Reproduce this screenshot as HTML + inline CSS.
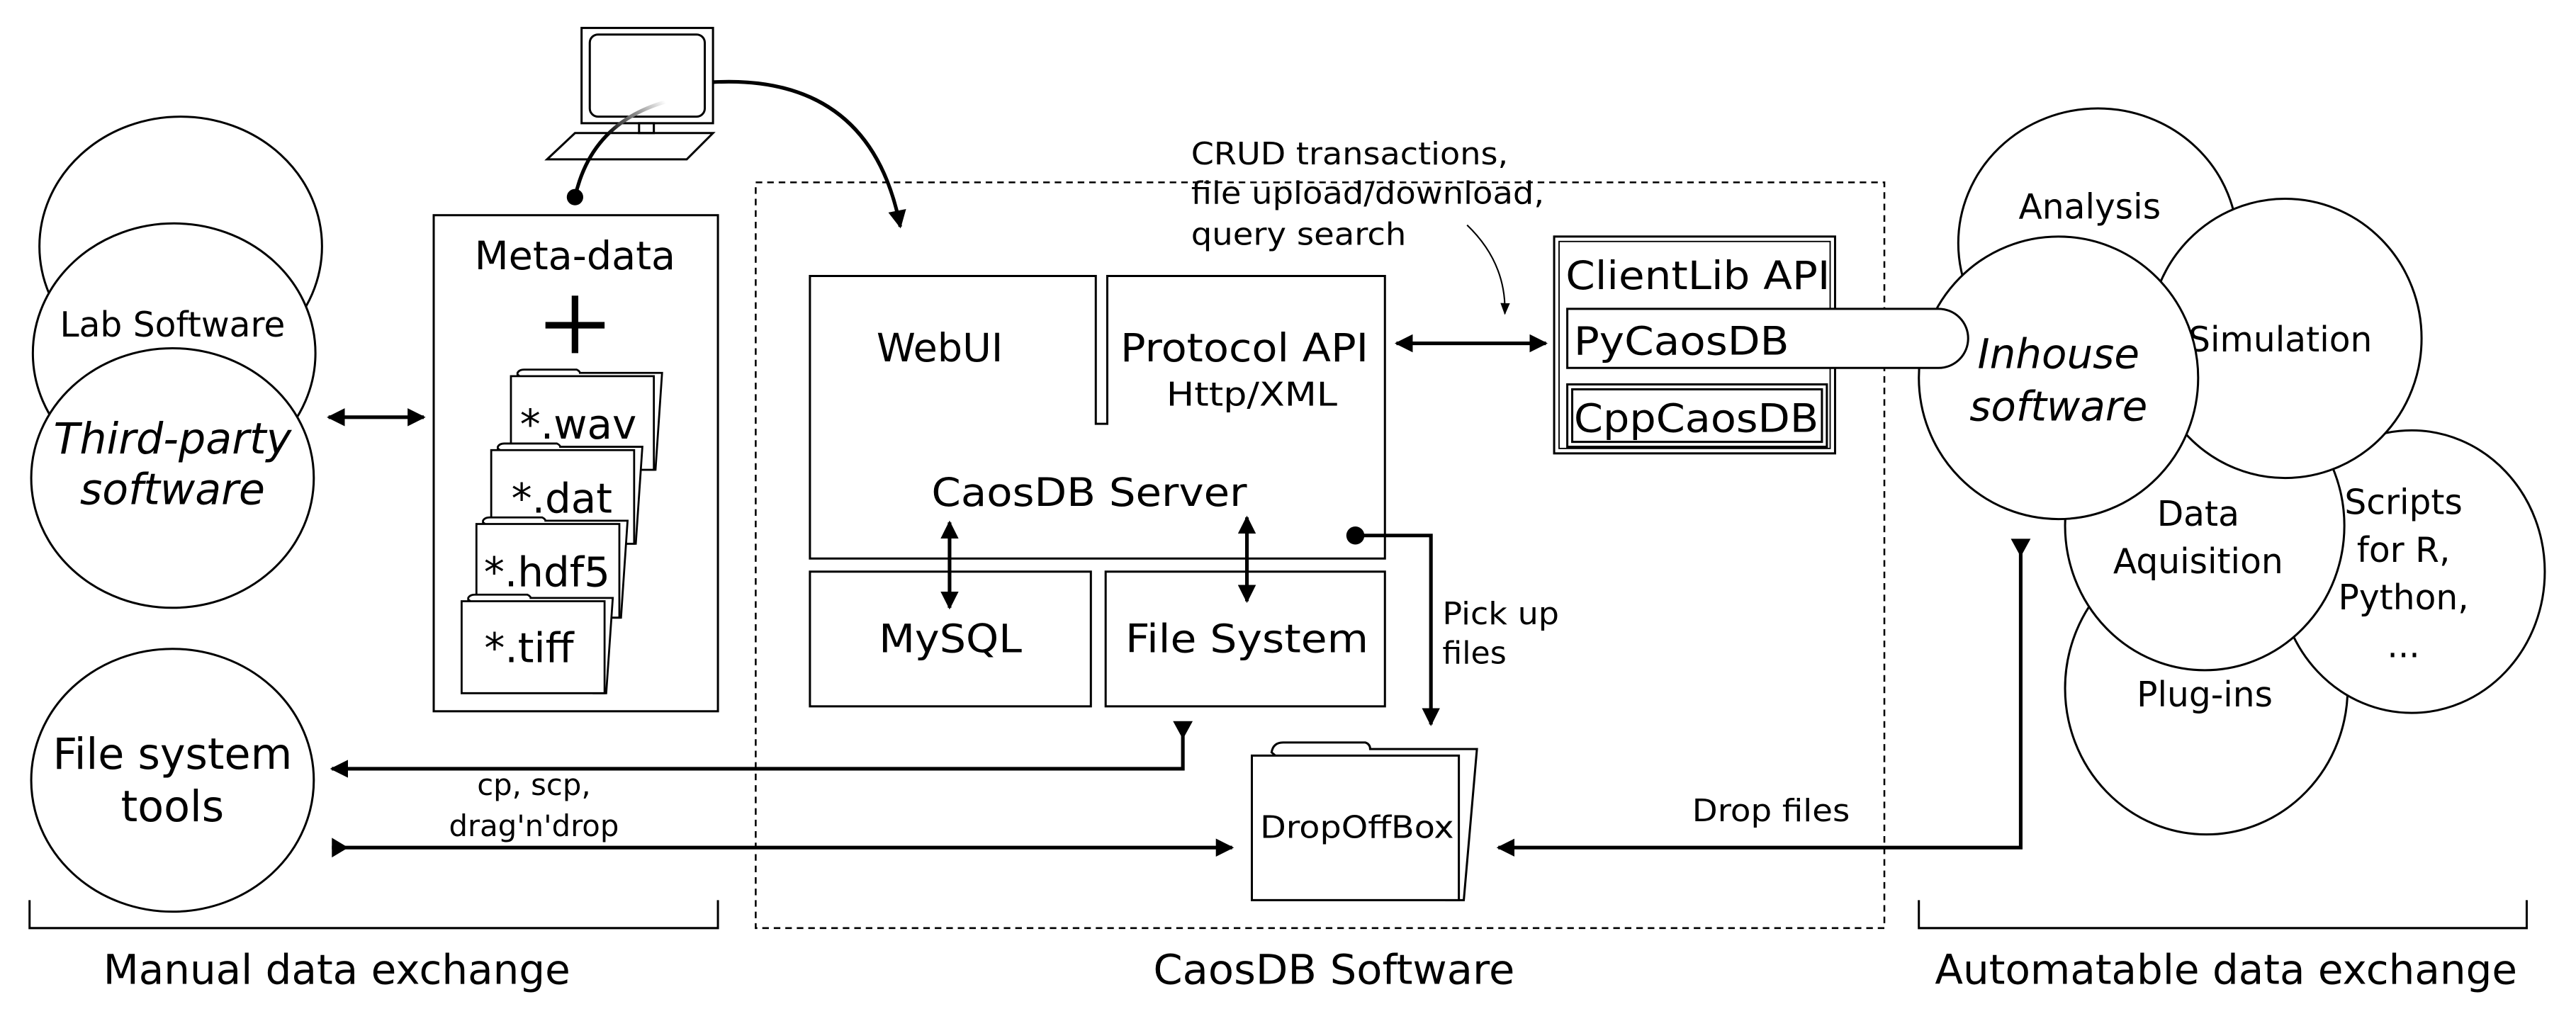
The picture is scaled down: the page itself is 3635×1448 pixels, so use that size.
<!DOCTYPE html>
<html><head><meta charset="utf-8"><style>
html,body{margin:0;padding:0;background:#fff;}
svg{display:block;}
text{font-family:"DejaVu Sans","Liberation Sans",sans-serif;fill:#000;}
</style></head><body>
<svg width="3635" height="1448" viewBox="0 0 1568 624.6" xmlns="http://www.w3.org/2000/svg">
<defs>
<marker id="ah" viewBox="0 0 10 10" refX="9" refY="5" markerWidth="5" markerHeight="5" orient="auto-start-reverse" markerUnits="strokeWidth"><path d="M0,0 L10,5 L0,10 z" fill="#000"/></marker>
<marker id="ahs" viewBox="0 0 10 10" refX="9" refY="5" markerWidth="8" markerHeight="8" orient="auto-start-reverse" markerUnits="strokeWidth"><path d="M0,1 L10,5 L0,9 z" fill="#000"/></marker>
<linearGradient id="g" x1="0" y1="1" x2="1" y2="0"><stop offset="0.5" stop-color="#000"/><stop offset="1" stop-color="#fff"/></linearGradient>
</defs>
<g fill="#fff" stroke="#000" stroke-width="1.3">
<ellipse cx="110" cy="150" rx="86" ry="79"/>
<ellipse cx="106" cy="215" rx="86" ry="79"/>
</g>
<text x="105" y="205" font-size="21" text-anchor="middle">Lab Software</text>
<g fill="#fff" stroke="#000" stroke-width="1.3">
<ellipse cx="105" cy="291" rx="86" ry="79"/>
<ellipse cx="105" cy="475" rx="86" ry="80"/>
</g>
<text x="105" y="276" font-size="26" font-style="italic" text-anchor="middle">Third-party</text>
<text x="105" y="307" font-size="26" font-style="italic" text-anchor="middle">software</text>
<text x="105" y="468" font-size="26" text-anchor="middle">File system</text>
<text x="105" y="500" font-size="26" text-anchor="middle">tools</text>

<g fill="none" stroke="#000" stroke-width="1.3">
<rect x="354" y="17" width="80" height="58"/>
<rect x="359" y="21" width="70" height="50" rx="5"/>
<rect x="389" y="75" width="9" height="6"/>
<path d="M333,97 L350,81 L434,81 L418,97 Z"/>
</g>
<path d="M350,120 Q360,75 405,62" fill="none" stroke="url(#g)" stroke-width="2.2"/>
<circle cx="350" cy="120" r="5" fill="#000"/>
<path d="M434,50 Q530,45 548,138" fill="none" stroke="#000" stroke-width="2.2" marker-end="url(#ah)"/>

<rect x="264" y="131" width="173" height="302" fill="none" stroke="#000" stroke-width="1.3"/>
<text x="350" y="164" font-size="24" text-anchor="middle">Meta-data</text>
<path d="M350,180 V215 M332,198 H368" stroke="#000" stroke-width="4"/>
<g stroke="#000" stroke-width="1.2" fill="#fff">
<g transform="translate(311,229)"><path d="M4,-1 L4,-2 Q5,-4 8,-4 L40,-4 Q42,-3 42,-2 L92,-2 L88,57 L80,57 Z"/><path d="M0,0 L87,0 L87,57 L0,57 Z"/></g>
<text x="352" y="267" font-size="25" text-anchor="middle" stroke="none" fill="#000">*.wav</text>
<g transform="translate(299,274)"><path d="M4,-1 L4,-2 Q5,-4 8,-4 L40,-4 Q42,-3 42,-2 L92,-2 L88,57 L80,57 Z"/><path d="M0,0 L87,0 L87,57 L0,57 Z"/></g>
<text x="342" y="312" font-size="25" text-anchor="middle" stroke="none" fill="#000">*.dat</text>
<g transform="translate(290,319)"><path d="M4,-1 L4,-2 Q5,-4 8,-4 L40,-4 Q42,-3 42,-2 L92,-2 L88,57 L80,57 Z"/><path d="M0,0 L87,0 L87,57 L0,57 Z"/></g>
<text x="333" y="357" font-size="25" text-anchor="middle" stroke="none" fill="#000">*.hdf5</text>
<g transform="translate(281,366)"><path d="M4,-1 L4,-2 Q5,-4 8,-4 L40,-4 Q42,-3 42,-2 L92,-2 L88,56 L80,56 Z"/><path d="M0,0 L87,0 L87,56 L0,56 Z"/></g>
<text x="322" y="403" font-size="25" text-anchor="middle" stroke="none" fill="#000">*.tiff</text>
</g>

<line x1="200" y1="254" x2="258" y2="254" stroke="#000" stroke-width="2.2" marker-start="url(#ah)" marker-end="url(#ah)"/>

<rect x="460" y="111" width="687" height="454" fill="none" stroke="#000" stroke-width="1.1" stroke-dasharray="4,3"/>

<path d="M493,168 H667 V258 H674 V168 H843 V340 H493 Z" fill="none" stroke="#000" stroke-width="1.3"/>
<rect x="493" y="348" width="171" height="82" fill="none" stroke="#000" stroke-width="1.3"/>
<rect x="673" y="348" width="170" height="82" fill="none" stroke="#000" stroke-width="1.3"/>
<text x="572" y="220" font-size="24" text-anchor="middle">WebUI</text>
<text x="682" y="220" font-size="24" textLength="151" lengthAdjust="spacingAndGlyphs">Protocol API</text>
<text x="710" y="247" font-size="20" textLength="104" lengthAdjust="spacingAndGlyphs">Http/XML</text>
<text x="567" y="308" font-size="24" textLength="192" lengthAdjust="spacingAndGlyphs">CaosDB Server</text>
<text x="535" y="397" font-size="24" textLength="87" lengthAdjust="spacingAndGlyphs">MySQL</text>
<text x="685" y="397" font-size="24" textLength="148" lengthAdjust="spacingAndGlyphs">File System</text>
<line x1="578" y1="318" x2="578" y2="370" stroke="#000" stroke-width="2.2" marker-start="url(#ah)" marker-end="url(#ah)"/>
<line x1="759" y1="315" x2="759" y2="366" stroke="#000" stroke-width="2.2" marker-start="url(#ah)" marker-end="url(#ah)"/>
<circle cx="825" cy="326" r="5.5" fill="#000"/>
<path d="M825,326 H871 V441" fill="none" stroke="#000" stroke-width="2.2" marker-end="url(#ah)"/>
<text x="878" y="380" font-size="19" textLength="71" lengthAdjust="spacingAndGlyphs">Pick up</text>
<text x="878" y="404" font-size="19" textLength="39" lengthAdjust="spacingAndGlyphs">files</text>

<path d="M720,440 V468 H202" fill="none" stroke="#000" stroke-width="2.2" marker-end="url(#ah)"/>
<path d="M714,439 L726,439 L720,450 Z" fill="#000"/>
<path d="M202,516 H750" fill="none" stroke="#000" stroke-width="2.2" marker-end="url(#ah)"/>
<path d="M202,510 L202,522 L212,516 Z" fill="#000"/>
<text x="325" y="484" font-size="18" text-anchor="middle">cp, scp,</text>
<text x="325" y="509" font-size="18" text-anchor="middle">drag'n'drop</text>

<g stroke="#000" stroke-width="1.3" fill="#fff">
<path d="M774,458 Q775,452 781,452 L831,452 Q834,453 834,456 L899,456 L891,548 L880,548 Z"/>
<path d="M762,460 L888,460 L888,548 L762,548 Z"/>
</g>
<text x="767" y="510" font-size="19" textLength="118" lengthAdjust="spacingAndGlyphs">DropOffBox</text>

<path d="M1230,330 V516 H912" fill="none" stroke="#000" stroke-width="2.2" marker-end="url(#ah)"/>
<path d="M1224,328 L1236,328 L1230,339 Z" fill="#000"/>
<text x="1030" y="500" font-size="19" textLength="96" lengthAdjust="spacingAndGlyphs">Drop files</text>

<text x="725" y="100" font-size="19" textLength="193" lengthAdjust="spacingAndGlyphs">CRUD transactions,</text>
<text x="725" y="124" font-size="19" textLength="215" lengthAdjust="spacingAndGlyphs">file upload/download,</text>
<text x="725" y="149" font-size="19" textLength="131" lengthAdjust="spacingAndGlyphs">query search</text>
<path d="M893,137 Q917,160 916,191" fill="none" stroke="#000" stroke-width="0.9" marker-end="url(#ahs)"/>
<line x1="850" y1="209" x2="941" y2="209" stroke="#000" stroke-width="2.2" marker-start="url(#ah)" marker-end="url(#ah)"/>

<g fill="#fff" stroke="#000" stroke-width="1.3">
<ellipse cx="1343" cy="419" rx="86" ry="89"/>
<ellipse cx="1468" cy="348" rx="81" ry="86"/>
</g>
<text x="1342" y="430" font-size="21" text-anchor="middle">Plug-ins</text>
<text x="1463" y="313" font-size="21" text-anchor="middle">Scripts</text>
<text x="1463" y="342" font-size="21" text-anchor="middle">for R,</text>
<text x="1463" y="371" font-size="21" text-anchor="middle">Python,</text>
<text x="1463" y="400" font-size="21" text-anchor="middle">...</text>
<ellipse cx="1342" cy="320" rx="85" ry="88" fill="#fff" stroke="#000" stroke-width="1.3"/>
<text x="1338" y="320" font-size="21" text-anchor="middle">Data</text>
<text x="1338" y="349" font-size="21" text-anchor="middle">Aquisition</text>
<ellipse cx="1277" cy="148" rx="85" ry="82" fill="#fff" stroke="#000" stroke-width="1.3"/>
<text x="1272" y="133" font-size="21" text-anchor="middle">Analysis</text>
<ellipse cx="1391" cy="206" rx="83" ry="85" fill="#fff" stroke="#000" stroke-width="1.3"/>
<text x="1388" y="214" font-size="21" text-anchor="middle">Simulation</text>
<ellipse cx="1253" cy="230" rx="85" ry="86" fill="#fff" stroke="#000" stroke-width="1.3"/>
<text x="1253" y="224" font-size="25" font-style="italic" text-anchor="middle">Inhouse</text>
<text x="1253" y="256" font-size="25" font-style="italic" text-anchor="middle">software</text>

<rect x="946" y="144" width="171" height="132" fill="#fff" stroke="#000" stroke-width="1.3"/>
<rect x="949" y="147" width="165" height="126" fill="none" stroke="#000" stroke-width="0.8"/>
<text x="953" y="176" font-size="24" textLength="161" lengthAdjust="spacingAndGlyphs">ClientLib API</text>
<path d="M954,188 H1180 A18,18 0 0 1 1180,224 H954 Z" fill="#fff" stroke="#000" stroke-width="1.3"/>
<text x="958" y="216" font-size="24" textLength="131" lengthAdjust="spacingAndGlyphs">PyCaosDB</text>
<rect x="954" y="234" width="158" height="38" fill="#fff" stroke="#000" stroke-width="1.3"/>
<rect x="957" y="237" width="152" height="32" fill="none" stroke="#000" stroke-width="1.3"/>
<text x="958" y="263" font-size="24" textLength="149" lengthAdjust="spacingAndGlyphs">CppCaosDB</text>

<path d="M18,548 V565 H437 V548" fill="none" stroke="#000" stroke-width="1.3"/>
<path d="M1168,548 V565 H1538 V548" fill="none" stroke="#000" stroke-width="1.3"/>
<text x="205" y="599" font-size="25" text-anchor="middle">Manual data exchange</text>
<text x="702" y="599" font-size="25" textLength="220" lengthAdjust="spacingAndGlyphs">CaosDB Software</text>
<text x="1355" y="599" font-size="25" text-anchor="middle">Automatable data exchange</text>
</svg>
</body></html>
